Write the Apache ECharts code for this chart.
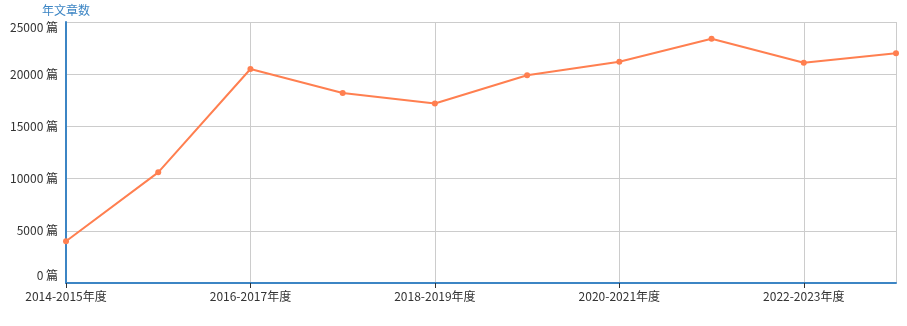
<!DOCTYPE html>
<html>
<head>
<meta charset="utf-8">
<script src="https://cdn.jsdelivr.net/npm/echarts@6/dist/echarts.min.js"></script>
<style>html,body{margin:0;padding:0;background:#fff}#c{width:907px;height:326px}</style>
</head>
<body>
<div id="c"></div>
<script>
const categories = ['2014-2015年度','2015-2016年度','2016-2017年度','2017-2018年度','2018-2019年度','2019-2020年度','2020-2021年度','2021-2022年度','2022-2023年度','2023-2024年度'];
const articleCounts = [4000, 10600, 20500, 18200, 17200, 19900, 21200, 23400, 21100, 22000];
const yTicks = [0, 5000, 10000, 15000, 20000, 25000];

const blue = '#3c85c4';
const chart = echarts.init(document.getElementById('c'));
chart.setOption({
  animation: false,
  textStyle: { fontFamily: '"Noto Sans CJK SC", sans-serif' },
  grid: { left: 66, right: 11, top: 22, bottom: 43, containLabel: false },
  xAxis: {
    type: 'category',
    data: categories,
    boundaryGap: false,
    axisLine: { lineStyle: { color: blue, width: 2 } },
    axisTick: { show: true, interval: 1, lineStyle: { color: '#333' }, length: 5 },
    axisLabel: { interval: 1, color: '#333', fontSize: 12, margin: 7 },
    splitLine: { show: true, interval: function (i) { return i % 2 === 0 || i === categories.length - 1; }, lineStyle: { color: '#ccc' } }
  },
  yAxis: {
    type: 'value',
    min: yTicks[0],
    max: yTicks[yTicks.length - 1],
    interval: 5000,
    name: '年文章数',
    nameLocation: 'end',
    nameGap: 6,
    nameTextStyle: { color: blue, fontSize: 12, align: 'center', padding: [0, 0, 0, 0] },
    axisLine: { show: true, lineStyle: { color: blue, width: 2 } },
    axisTick: { show: false },
    splitLine: { show: true, lineStyle: { color: '#ccc' } },
    axisLabel: {
      color: '#333', fontSize: 12, margin: 8,
      formatter: function (v) {
        if (v === yTicks[0]) return '{lo|' + v + ' 篇}';
        if (v === yTicks[yTicks.length - 1]) return '{hi|' + v + ' 篇}';
        return v + ' 篇';
      },
      rich: {
        lo: { color: '#333', fontSize: 12, padding: [0, 0, 16, 0] },
        hi: { color: '#333', fontSize: 12, padding: [10, 0, 0, 0] }
      }
    }
  },
  series: [{
    type: 'line',
    data: articleCounts,
    symbol: 'circle',
    symbolSize: 6,
    itemStyle: { color: '#ff7f50' },
    lineStyle: { color: '#ff7f50', width: 2 }
  }]
});
</script>
</body>
</html>
